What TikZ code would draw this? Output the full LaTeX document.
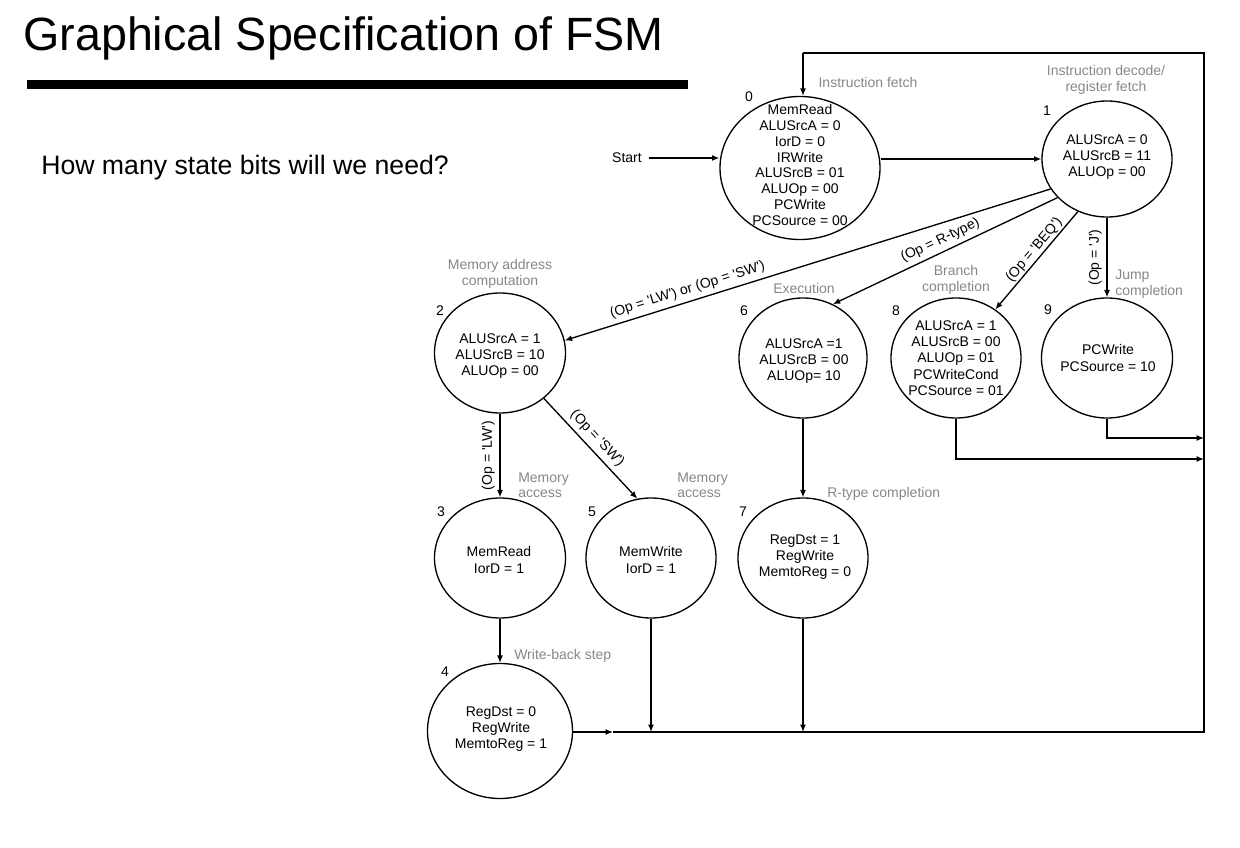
\documentclass[tikz,border=0pt]{standalone}
\usepackage{fontspec}
\setmainfont{Liberation Sans}[Ligatures=TeXOff]
\usetikzlibrary{arrows.meta,shapes.geometric}
\definecolor{lblgray}{RGB}{135,135,135}
\begin{document}
\begin{tikzpicture}[x=0.75pt,y=-0.75pt,
  state/.style 2 args={draw, ellipse, line width=1pt, inner sep=0pt,
    minimum width=#1*0.75pt, minimum height=#2*0.75pt},
  txt/.style={font=\fontsize{10.5}{12.2}\selectfont, inner sep=0pt, align=center},
  gtxt/.style={font=\fontsize{10.5}{11.6}\selectfont, inner sep=0pt, text=lblgray},
  elab/.style={font=\fontsize{10.5}{12}\selectfont},
  arr/.style={line width=1pt, -{Latex[length=5.5pt,width=4.5pt]}},
  ln/.style={line width=1pt}]
\useasboundingbox (0,0) rectangle (1240,848);

% title
\node[anchor=base west, inner sep=0pt, font=\fontsize{35}{40}\selectfont] (title) at (23,51) {Graphical Specification of FSM};
\fill (27,80) rectangle (688,89);
\node[anchor=base west, inner sep=0pt, font=\fontsize{20}{24}\selectfont] (q) at (41,175) {How many state bits will we need?};

% states
\node[state={160}{143}] (s0) at (800,168) {};
\node[state={130}{116}] (s1) at (1107,159) {};
\node[state={131}{120}] (s2) at (500,353) {};
\node[state={128}{120}] (s6) at (803,358) {};
\node[state={130}{120}] (s8) at (956,358) {};
\node[state={131}{120}] (s9) at (1107,358) {};
\node[state={131}{120}] (s3) at (500,558) {};
\node[state={130}{120}] (s5) at (651,558) {};
\node[state={130}{120}] (s7) at (803,558) {};
\node[state={145}{135}] (s4) at (500,731) {};

% state contents
\node[txt, font=\fontsize{10.5}{11.9}\selectfont] (t0) at (800,165) {MemRead\\ALUSrcA = 0\\IorD = 0\\IRWrite\\ALUSrcB = 01\\ALUOp = 00\\PCWrite\\PCSource = 00};
\node[txt] (t1) at (1107,157) {ALUSrcA = 0\\ALUSrcB = 11\\ALUOp = 00};
\node[txt] (t2) at (500,356) {ALUSrcA = 1\\ALUSrcB = 10\\ALUOp = 00};
\node[txt] (t6) at (804,361) {ALUSrcA =1\\ALUSrcB = 00\\ALUOp= 10};
\node[txt] (t8) at (956,358) {ALUSrcA = 1\\ALUSrcB = 00\\ALUOp = 01\\PCWriteCond\\PCSource = 01};
\node[txt] (t9) at (1108,358) {PCWrite\\PCSource = 10};
\node[txt] (t3) at (499,560) {MemRead\\IorD = 1};
\node[txt] (t5) at (651,560) {MemWrite\\IorD = 1};
\node[txt] (t7) at (805,557) {RegDst = 1\\RegWrite\\MemtoReg = 0};
\node[txt] (t4) at (501,729) {RegDst = 0\\RegWrite\\MemtoReg = 1};

% state numbers
\node[txt] (n0) at (749,97) {0};
\node[txt] (n1) at (1047,111) {1};
\node[txt] (n2) at (440,311) {2};
\node[txt] (n6) at (744,311) {6};
\node[txt] (n8) at (896,311) {8};
\node[txt] (n9) at (1048,310) {9};
\node[txt] (n3) at (441,512) {3};
\node[txt] (n5) at (592,512) {5};
\node[txt] (n7) at (743,512) {7};
\node[txt] (n4) at (445,672) {4};

% gray captions
\node[gtxt] (g0) at (868,83) {Instruction fetch};
\node[gtxt, align=center] (g1) at (1106,80) {Instruction decode/\\register fetch};
\node[gtxt, align=center] (g2) at (500,274) {Memory address\\computation};
\node[gtxt] (g6) at (804,288) {Execution};
\node[gtxt, align=center] (g8) at (956,280) {Branch\\completion};
\node[gtxt, align=left, anchor=west] (g9) at (1115,284) {Jump\\completion};
\node[gtxt, align=left, anchor=west] (g3) at (518,485) {Memory\\access};
\node[gtxt, align=left, anchor=west] (g5) at (677,485) {Memory\\access};
\node[gtxt, anchor=west] (g7) at (827,494) {R-type completion};
\node[gtxt, anchor=west] (g4) at (514,656) {Write-back step};

% start
\node[txt] (start) at (627,158) {Start};

% routing coordinates
\coordinate (j) at (613,732);
\coordinate (br) at (1204,732);
\coordinate (tr) at (1204,53);
\coordinate (tl) at (803,53);
\coordinate (c9) at (1204,438);
\coordinate (c8) at (1204,459);

% connectors
\draw[arr, shorten <=5pt] (start.east) -- (start.east -| s0.west);
\draw[arr] (s0.east |- s1.west) -- (s1.west);
\draw[arr] (s1.208) -- node[elab, sloped, above, pos=0.74] {(Op = 'LW') or (Op = 'SW')} (s2.11);
\draw[arr] (s1.218) -- node[elab, sloped, above, pos=0.5] {(Op = R-type)} (s6.61);
\draw[arr] (s1.241) -- node[elab, sloped, above, pos=0.45, inner sep=1pt] {(Op = 'BEQ')} (s8.51);
\draw[arr] (s1.south) -- node[elab, rotate=90, anchor=south] {(Op = 'J')} (s9.north);
\draw[arr] (s2.south) -- node[elab, rotate=90, anchor=south] {(Op = 'LW')} (s3.north);
\draw[arr] (s2.314) -- node[elab, sloped, above, pos=0.48] {(Op = 'SW')} (s5.103);
\draw[arr] (s6.south) -- (s7.north);
\draw[arr] (s3.south) -- (s4.north);
\draw[arr] (s4.east |- j) -- (j);
\draw[ln] (j) -- (br) -- (tr) -- (tl);
\draw[arr] (tl) -- (tl |- s0.north);
\draw[arr] (s5.south) -- (s5.south |- j);
\draw[arr] (s7.south) -- (s7.south |- j);
\draw[arr] (s8.south) |- (c8);
\draw[arr] (s9.south) |- (c9);
\end{tikzpicture}
\end{document}
